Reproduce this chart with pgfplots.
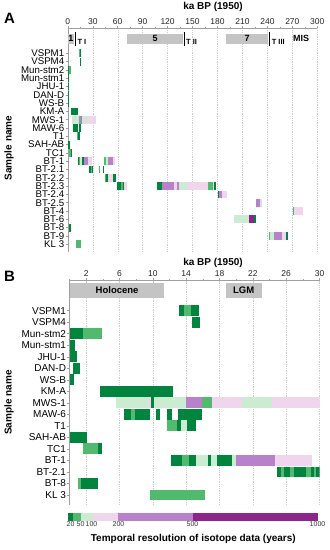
\documentclass[border=0pt]{standalone}
\usepackage{pgfplots}
\pgfplotsset{compat=1.18}
\usepackage{fontspec}
\setmainfont{Liberation Sans}
\definecolor{dg}{RGB}{0,132,62}
\definecolor{mg}{RGB}{82,186,110}
\definecolor{lg}{RGB}{204,236,210}
\definecolor{lp}{RGB}{240,214,237}
\definecolor{mp}{RGB}{184,130,202}
\definecolor{dp}{RGB}{140,38,140}
\definecolor{misgray}{RGB}{196,196,196}

\newcommand\seg[4]{\addplot[draw=none,fill=#1] table[row sep=\\,x=x,y expr={\thisrow{d}-#2}] {x d\\ #3 -0.47\\ #4 -0.47\\ #4 0.47\\ #3 0.47\\};}

\newcommand\sVSPMa[1]{\seg{dg}{#1}{13.1}{13.7}\seg{mg}{#1}{13.7}{14.6}\seg{dg}{#1}{14.6}{15.5}}
\newcommand\sVSPMb[1]{\seg{dg}{#1}{14.7}{15.7}}
\newcommand\sMunb[1]{\seg{dg}{#1}{0}{1.65}\seg{mg}{#1}{1.65}{3.85}}
\newcommand\sMuna[1]{\seg{dg}{#1}{0}{0.65}}
\newcommand\sJHU[1]{\seg{dg}{#1}{0}{0.85}}
\newcommand\sDAN[1]{\seg{dg}{#1}{0.45}{1.3}}
\newcommand\sWSB[1]{\seg{dg}{#1}{0}{0.55}}
\newcommand\sKMA[1]{\seg{dg}{#1}{3.65}{12.4}}
\newcommand\sMWS[1]{\seg{lg}{#1}{5.6}{9.4}\seg{lp}{#1}{9.4}{9.8}\seg{dg}{#1}{9.8}{10.1}\seg{lg}{#1}{10.1}{14.0}\seg{mp}{#1}{14.0}{15.85}\seg{mg}{#1}{15.85}{17.1}\seg{lp}{#1}{17.1}{20.65}\seg{lg}{#1}{20.65}{24.25}\seg{lp}{#1}{24.25}{34}}
\newcommand\sMAW[1]{\seg{dg}{#1}{6.55}{7.35}\seg{mg}{#1}{7.35}{7.85}\seg{dg}{#1}{7.85}{9.65}\seg{dg}{#1}{10.35}{10.8}\seg{dg}{#1}{11.65}{12.35}\seg{dg}{#1}{13.05}{15.85}}
\newcommand\sTone[1]{\seg{mg}{#1}{11.65}{12.85}\seg{dg}{#1}{12.85}{13.35}\seg{lg}{#1}{13.35}{14.05}\seg{dg}{#1}{14.05}{15.2}}
\newcommand\sSAH[1]{\seg{dg}{#1}{0}{2.1}}
\newcommand\sTC[1]{\seg{mg}{#1}{1.6}{3.35}\seg{dg}{#1}{3.35}{3.9}}
\newcommand\sBTa[1]{\seg{dg}{#1}{12.2}{13.55}\seg{mg}{#1}{13.55}{14.35}\seg{dg}{#1}{14.35}{15.15}\seg{lg}{#1}{15.15}{16.65}\seg{dg}{#1}{16.65}{16.95}\seg{lg}{#1}{16.95}{17.65}\seg{dg}{#1}{17.65}{19.55}\seg{lg}{#1}{19.55}{19.95}\seg{mp}{#1}{19.95}{24.65}\seg{lp}{#1}{24.65}{29.05}}
\newcommand\sBTaX[1]{\seg{mg}{#1}{43.5}{46}\seg{lg}{#1}{46}{48.5}\seg{mp}{#1}{48.5}{54.5}\seg{lp}{#1}{54.5}{56.5}}
\newcommand\sBTb[1]{\seg{dg}{#1}{24.95}{25.35}\seg{mg}{#1}{25.35}{25.75}\seg{dg}{#1}{25.75}{26.4}\seg{mg}{#1}{26.4}{26.95}\seg{dg}{#1}{26.95}{28.4}\seg{mg}{#1}{28.4}{28.95}\seg{dg}{#1}{28.95}{29.35}\seg{mg}{#1}{29.35}{29.6}\seg{dg}{#1}{29.6}{30.7}}
\newcommand\sBTbX[1]{\seg{mg}{#1}{37.5}{38.7}\seg{dg}{#1}{42}{43.2}}
\newcommand\sBTeight[1]{\seg{mg}{#1}{0.95}{1.35}\seg{dg}{#1}{1.35}{3.45}}
\newcommand\sKL[1]{\seg{mg}{#1}{9.65}{16.25}}

\pgfplotsset{panel/.style={scale only axis, axis x line*=top, axis y line*=left, enlargelimits=false,
  xmajorgrids, grid style={gray!40, line width=0.35pt, dash pattern=on 1pt off 0.8pt},
  axis line style={gray!75, line width=0.45pt}, tick style={gray!75, line width=0.45pt},
  major tick length=2.2bp, minor tick length=1.5bp, tick align=outside,
  xticklabel style={font=\fontsize{8.5bp}{9bp}\selectfont, text=black!85, yshift=-2bp},
  yticklabel style={font=\fontsize{9.7bp}{10bp}\selectfont, inner sep=1.2bp},
  /pgf/number format/assume math mode=true}}

\newcommand\boxy[4]{\addplot[draw=none,fill=misgray] table[row sep=\\] {x y\\ #1 #3\\ #2 #3\\ #2 #4\\ #1 #4\\};}

\begin{document}
\begin{tikzpicture}
\useasboundingbox (0,0) rectangle (330bp,550bp);
% ---------------- Panel A
\begin{axis}[panel, width=249.5bp, height=223.3bp, at={(67.8bp,298.3bp)}, anchor=south west,
  xmin=0, xmax=300, ymin=-24.9, ymax=2,
  xtick={0,30,...,300}, minor xtick={15,45,...,285},
  ytick={-24,-23,...,-1},
  yticklabels={KL 3,BT-9,BT-8,BT-6,BT-4,BT-2.5,BT-2.4,BT-2.3,BT-2.2,BT-2.1,BT-1,TC1,SAH-AB,T1,MAW-6,MWS-1,KM-A,WS-B,DAN-D,JHU-1,Mun-stm1,Mun-stm2,VSPM4,VSPM1}]
\boxy{0}{7.5}{0.17}{1.37}
\boxy{71}{139}{0.17}{1.37}
\boxy{190}{241}{0.17}{1.37}
\addplot[black, line width=0.8pt] coordinates {(8.7,-0.13) (8.7,1.53)};
\addplot[black, line width=0.8pt] coordinates {(139.7,-0.13) (139.7,1.53)};
\addplot[black, line width=0.8pt] coordinates {(242.3,-0.13) (242.3,1.53)};
\node[font=\fontsize{9bp}{9bp}\selectfont\bfseries] at (axis cs:3.8,0.77) {1};
\node[font=\fontsize{9bp}{9bp}\selectfont\bfseries] at (axis cs:105,0.8) {5};
\node[font=\fontsize{9bp}{9bp}\selectfont\bfseries] at (axis cs:215.5,0.8) {7};
\node[font=\fontsize{9bp}{9bp}\selectfont\bfseries] at (axis cs:280.5,0.85) {MIS};
\node[font=\fontsize{7.5bp}{8bp}\selectfont\bfseries,anchor=west,inner sep=0pt] at (axis cs:11.5,0.35) {T I};
\node[font=\fontsize{7.5bp}{8bp}\selectfont\bfseries,anchor=west,inner sep=0pt] at (axis cs:142,0.35) {T II};
\node[font=\fontsize{7.5bp}{8bp}\selectfont\bfseries,anchor=west,inner sep=0pt] at (axis cs:245,0.35) {T III};
\sVSPMa{1}\sVSPMb{2}\sMunb{3}\sMuna{4}\sJHU{5}\sDAN{6}\sWSB{7}\sKMA{8}\sMWS{9}\sMAW{10}\sTone{11}\sSAH{12}\sTC{13}
\sBTa{14}\sBTaX{14}\sBTb{15}\sBTbX{15}
\seg{mg}{16}{44.7}{46.5}\seg{dg}{16}{46.5}{48}\seg{lp}{16}{48}{54.5}\seg{dg}{16}{54.5}{58}
\seg{dg}{17}{59}{64}\seg{mg}{17}{64}{66}\seg{dg}{17}{66}{67}\seg{lp}{17}{67}{71}
\seg{dg}{17}{107}{113}\seg{mp}{17}{113}{128}\seg{lp}{17}{128}{131}\seg{mp}{17}{131}{134}\seg{lg}{17}{134}{143}\seg{lp}{17}{143}{169}\seg{mg}{17}{169}{174}\seg{lg}{17}{174}{176}\seg{dg}{17}{176}{178}
\seg{dg}{18}{180}{181.5}\seg{mp}{18}{181.5}{185}\seg{lp}{18}{185}{191}
\seg{mp}{19}{226}{230.5}\seg{lg}{19}{230.5}{233.5}
\seg{mg}{20}{270.5}{272.5}\seg{lp}{20}{272.5}{283}
\seg{lg}{21}{200}{217.5}\seg{dp}{21}{217.5}{224}\seg{dg}{21}{224}{226}
\sBTeight{22}
\seg{mg}{23}{242}{243}\seg{lg}{23}{243}{248}\seg{mp}{23}{248}{258}\seg{lp}{23}{258}{262.5}\seg{dg}{23}{262.5}{265}
\sKL{24}
\end{axis}
% ---------------- Panel B
\begin{axis}[panel, width=249.9bp, height=224.3bp, at={(69.6bp,45bp)}, anchor=south west,
  xmin=0, xmax=30, ymin=-17.87, ymax=1.6,
  xtick={2,6,...,30}, minor xtick={0,4,...,28},
  ytick={-17,-16,...,-1},
  yticklabel style={font=\fontsize{10bp}{10bp}\selectfont},
  yticklabels={KL 3,BT-8,BT-2.1,BT-1,TC1,SAH-AB,T1,MAW-6,MWS-1,KM-A,WS-B,DAN-D,JHU-1,Mun-stm1,Mun-stm2,VSPM4,VSPM1}]
\boxy{0}{11.35}{0.13}{1.38}
\boxy{18.8}{23.05}{0.13}{1.38}
\node[font=\fontsize{9.5bp}{10bp}\selectfont\bfseries] at (axis cs:5.7,0.75) {Holocene};
\node[font=\fontsize{9.5bp}{10bp}\selectfont\bfseries] at (axis cs:20.9,0.75) {LGM};
\sVSPMa{1}\sVSPMb{2}\sMunb{3}\sMuna{4}\sJHU{5}\sDAN{6}\sWSB{7}\sKMA{8}\sMWS{9}\sMAW{10}\sTone{11}\sSAH{12}\sTC{13}
\sBTa{14}\sBTb{15}\sBTeight{16}\sKL{17}
\end{axis}
% ---------------- colour bar
\begin{axis}[scale only axis, width=250bp, height=8bp, at={(68bp,29.3bp)}, anchor=south west,
  xmin=0, xmax=1000, ymin=0, ymax=1, hide axis, clip=false]
\addplot[draw=none,fill=dg] table[row sep=\\] {x y\\ 0 0\\ 20 0\\ 20 1\\ 0 1\\};
\addplot[draw=none,fill=mg] table[row sep=\\] {x y\\ 20 0\\ 50 0\\ 50 1\\ 20 1\\};
\addplot[draw=none,fill=lg] table[row sep=\\] {x y\\ 50 0\\ 100 0\\ 100 1\\ 50 1\\};
\addplot[draw=none,fill=lp] table[row sep=\\] {x y\\ 100 0\\ 200 0\\ 200 1\\ 100 1\\};
\addplot[draw=none,fill=mp] table[row sep=\\] {x y\\ 200 0\\ 500 0\\ 500 1\\ 200 1\\};
\addplot[draw=none,fill=dp] table[row sep=\\] {x y\\ 500 0\\ 1000 0\\ 1000 1\\ 500 1\\};
\foreach \v/\s in {20/-2.5,50/0,100/-1.5,200/0.5,500/-0.5,1000/-0.5}{
  \edef\tmp{\noexpand\node[font=\noexpand\fontsize{7bp}{8bp}\noexpand\selectfont, text=black!80, anchor=north, inner sep=0pt, xshift=\s bp] at (axis cs:\v,0) {\noexpand\strut\v};}\tmp}
\end{axis}
% ---------------- texts
\node[font=\fontsize{15bp}{15bp}\selectfont\bfseries] at (9.5bp,532bp) {A};
\node[font=\fontsize{15bp}{15bp}\selectfont\bfseries] at (9.5bp,274bp) {B};
\node[font=\fontsize{10bp}{10bp}\selectfont\bfseries] at (213bp,543bp) {ka BP (1950)};
\node[font=\fontsize{10bp}{10bp}\selectfont\bfseries] at (213bp,287.3bp) {ka BP (1950)};
\node[font=\fontsize{10bp}{10bp}\selectfont\bfseries, rotate=90] at (9bp,402bp) {Sample name};
\node[font=\fontsize{10bp}{10bp}\selectfont\bfseries, rotate=90] at (9bp,147.5bp) {Sample name};
\node[font=\fontsize{10bp}{10bp}\selectfont\bfseries] at (193.3bp,10.7bp) {Temporal resolution of isotope data (years)};
\end{tikzpicture}
\end{document}
